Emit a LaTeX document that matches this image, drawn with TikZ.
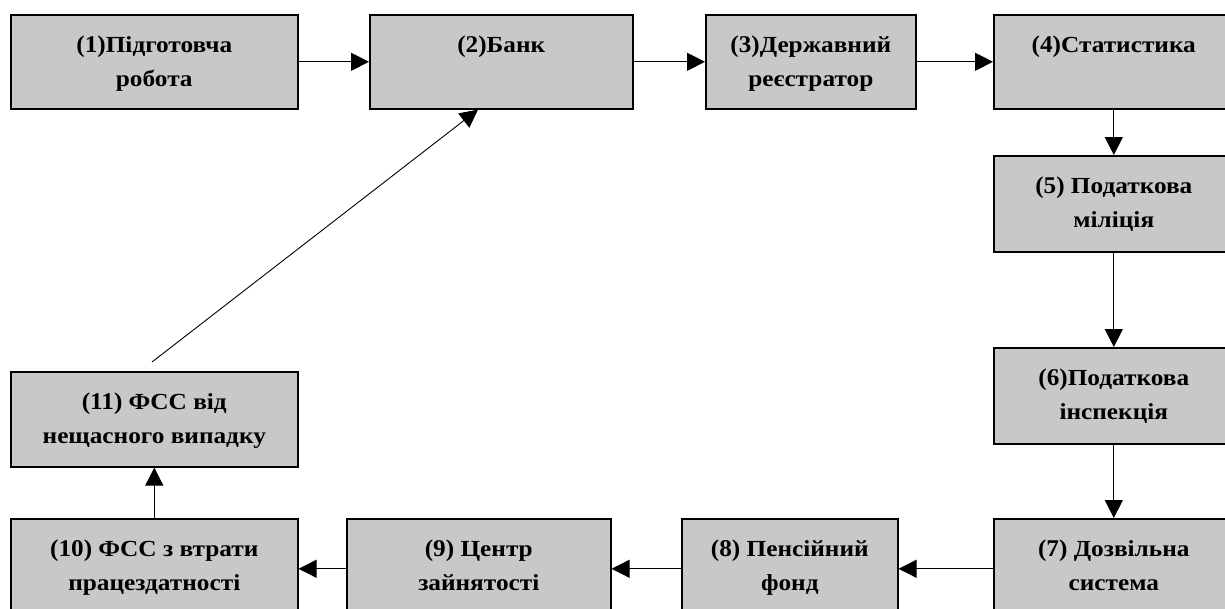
\documentclass[tikz,border=0pt]{standalone}
\usepackage{fontspec}
\setmainfont{Liberation Serif}
\newfontfamily\boxfont[FakeStretch=1.1]{Liberation Serif}
\newfontfamily\numfont[FakeStretch=1.05]{Liberation Serif}
\usetikzlibrary{arrows.meta,calc}
\definecolor{boxfill}{RGB}{200,200,200}
\newcommand{\bxtext}[3]{\begin{minipage}[t][#1][t]{#2}\centering\boxfont\fontsize{23}{34}\selectfont\bfseries\rule{0pt}{38pt}#3\end{minipage}}
\newcommand{\num}[1]{{\numfont\bfseries\fontsize{24}{34}\selectfont #1}}
\tikzset{
  box/.style={draw=black, line width=1.6pt, fill=boxfill, inner sep=0pt, anchor=north west},
  arr/.style={line width=1.2pt, -{Triangle[length=18pt,width=18pt]}},
  lnk/.style={line width=0.9pt, -{Triangle[length=18pt,width=18pt]}}
}
\begin{document}
\begin{tikzpicture}[x=1pt,y=-1pt]
\useasboundingbox (0,0) rectangle (1225,608);
\begin{scope}
\clip (0,0) rectangle (1225,608);
\node[box] (b1) at (10,14) {\bxtext{94pt}{287pt}{\num{(1)}Підготовча\\робота}};
\node[box] (b2) at (369,14) {\bxtext{94pt}{263pt}{\num{(2)}Банк}};
\node[box] (b3) at (705,14) {\bxtext{94pt}{210pt}{\num{(3)}Державний\\реєстратор}};
\node[box] (b4) at (993,14) {\bxtext{94pt}{240pt}{\num{(4)}Статистика}};
\node[box] (b5) at (993,155) {\bxtext{96pt}{240pt}{\num{(5)} Податкова\\міліція}};
\node[box] (b6) at (993,347) {\bxtext{96pt}{240pt}{\num{(6)}Податкова\\інспекція}};
\node[box] (b7) at (993,518) {\bxtext{100pt}{240pt}{\num{(7)} Дозвільна\\система}};
\node[box] (b8) at (681,518) {\bxtext{100pt}{216pt}{\num{(8)} Пенсійний\\фонд}};
\node[box] (b9) at (346,518) {\bxtext{100pt}{264pt}{\num{(9)} Центр\\зайнятості}};
\node[box] (b10) at (10,518) {\bxtext{100pt}{287pt}{\num{(10)} ФСС з втрати\\працездатності}};
\node[box] (b11) at (10,371) {\bxtext{95pt}{287pt}{\num{(11)} ФСС від\\нещасного випадку}};
\draw[arr] (b1.east) -- (b2.west);
\draw[arr] (b2.east) -- (b3.west);
\draw[arr] (b3.east) -- (b4.west);
\draw[arr] (b4.south) -- (b5.north);
\draw[arr] (b5.south) -- (b6.north);
\draw[arr] (b6.south) -- (b7.north);
\draw[arr] (b7.west) -- (b8.east);
\draw[arr] (b8.west) -- (b9.east);
\draw[arr] (b9.west) -- (b10.east);
\draw[arr] (b10.north) -- (b11.south);
\coordinate (d0) at (152,362);
\coordinate (d1) at ($(b2.south west)+(109,0)$);
\draw[lnk] (d0) -- (d1);
\end{scope}
\end{tikzpicture}
\end{document}
